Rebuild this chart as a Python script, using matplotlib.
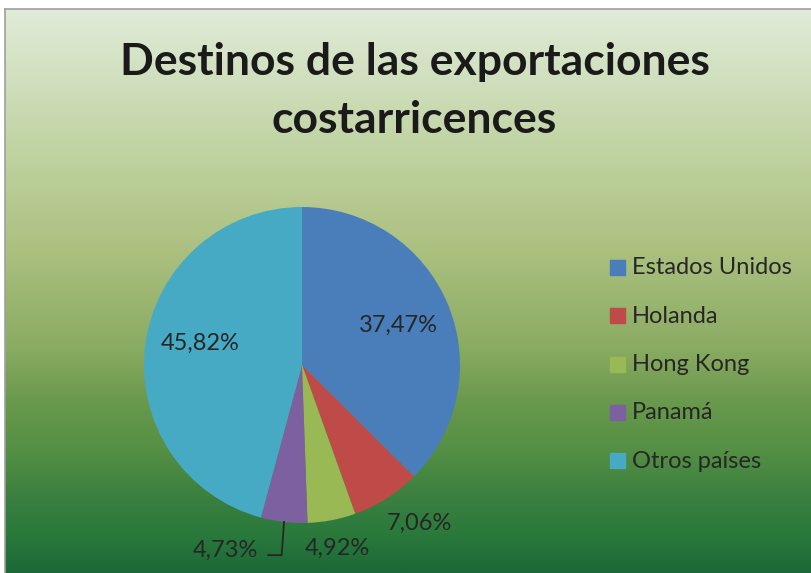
import numpy as np
import matplotlib.pyplot as plt
from matplotlib.colors import LinearSegmentedColormap

# Export destinations (percent share)
destinos = ["Estados Unidos", "Holanda", "Hong Kong", "Panamá", "Otros países"]
porcentajes = [37.47, 7.06, 4.92, 4.73, 45.82]
colores = ["#4a7ebb", "#be4b48", "#98b954", "#7d60a0", "#46aac5"]

W, H = 811, 573
fig = plt.figure(figsize=(W / 100, H / 100), dpi=100)
fig.patch.set_facecolor("white")

# gradient background of the chart area
bg = fig.add_axes([5 / W, 0, (W - 5) / W, (H - 9) / H])
fondo = LinearSegmentedColormap.from_list("fondo", [
    (0.0, "#e0ebd8"), (0.25, "#c0d3a2"), (0.43, "#abc07f"), (0.60, "#8aab62"),
    (0.69, "#6b9a4e"), (0.78, "#559044"), (0.87, "#3a7f40"), (0.93, "#2a7a3c"),
    (1.0, "#1d6838")])
bg.imshow(np.linspace(0, 1, 512).reshape(-1, 1), aspect="auto", cmap=fondo,
          extent=[0, 1, 0, 1])
bg.set_xticks([])
bg.set_yticks([])
for s in bg.spines.values():
    s.set_color("#a0a0a0")
    s.set_linewidth(1.2)
bg.spines["right"].set_visible(False)
bg.spines["bottom"].set_visible(False)

fuente = "Lato"
fig.text(415 / W, 1 - 62 / H, "Destinos de las exportaciones", ha="center", va="center",
         fontsize=32, fontweight="bold", family=fuente, color="#1a1a1a")
fig.text(414 / W, 1 - 120 / H, "costarricences", ha="center", va="center",
         fontsize=32, fontweight="bold", family=fuente, color="#1a1a1a")

# pie
cx, cy, r = 302, 365, 158
ax = fig.add_axes([(cx - r) / W, 1 - (cy + r) / H, 2 * r / W, 2 * r / H])
wedges, _ = ax.pie(porcentajes, colors=colores, startangle=90, counterclock=False,
                   radius=1, wedgeprops=dict(linewidth=0))
ax.set_xlim(-1, 1)
ax.set_ylim(-1, 1)
ax.set_aspect("auto")
ax.axis("off")

# label distances (in pie radii) and extra shifts
dist = [0.66, 1.22, 1.18, 1.18, 0.66]
shift = [(0, 0), (0.09, 0.03), (0, 0), (-0.35, 0), (0.01, 0.05)]
for w, p, d, (sx, sy) in zip(wedges, porcentajes, dist, shift):
    ang = np.deg2rad((w.theta1 + w.theta2) / 2)
    x, y = d * np.cos(ang) + sx, d * np.sin(ang) + sy
    ax.text(x, y, f"{p:.2f}%".replace(".", ","), ha="center", va="center",
            fontsize=17, family=fuente, color="#262626")

# leader line for the small Panamá slice
w = wedges[3]
ang = np.deg2rad((w.theta1 + w.theta2) / 2)
x0, y0 = np.cos(ang), np.sin(ang)
ax.plot([x0, x0 - 0.015, x0 - 0.10], [y0, y0 - 0.21, y0 - 0.21],
        color="#262626", lw=1.3, clip_on=False)

# legend
ly0, dy = 268, 48.3
for i, (nombre, col) in enumerate(zip(destinos, colores)):
    y = ly0 + i * dy
    fig.patches.append(plt.Rectangle((610 / W, 1 - (y + 7) / H), 15 / W, 15 / H,
                                     transform=fig.transFigure, color=col))
    fig.text(632 / W, 1 - y / H, nombre, ha="left", va="center",
             fontsize=17, family=fuente, color="#262626")

fig.savefig("out.png", dpi=100)
